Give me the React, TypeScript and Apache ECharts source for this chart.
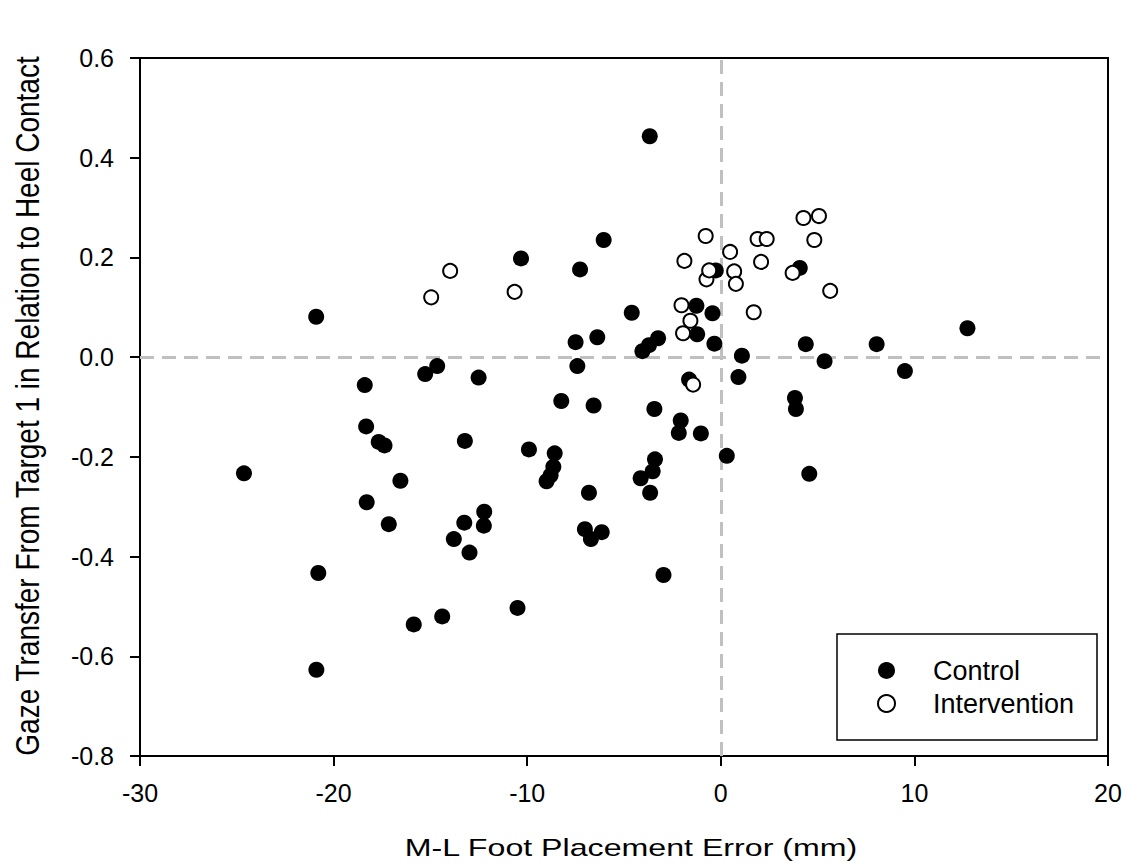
import React, { useEffect, useRef } from "react";
import * as echarts from "echarts";

const xTicks = [-30, -20, -10, 0, 10, 20];
const yTicks = [-0.8, -0.6, -0.4, -0.2, 0.0, 0.2, 0.4, 0.6];

const controlData: number[][] = [
  [-24.63, -0.233], [-20.9, 0.081], [-20.79, -0.433], [-20.89, -0.627],
  [-18.39, -0.056], [-18.32, -0.139], [-18.29, -0.291], [-17.67, -0.17],
  [-17.37, -0.177], [-17.15, -0.335], [-16.55, -0.248], [-15.86, -0.536],
  [-15.27, -0.034], [-14.65, -0.018], [-14.39, -0.52], [-13.79, -0.365],
  [-13.25, -0.332], [-13.22, -0.168], [-12.98, -0.392], [-12.51, -0.041],
  [-12.22, -0.31], [-12.24, -0.338], [-10.5, -0.503], [-10.32, 0.198],
  [-9.91, -0.185], [-9.0, -0.249], [-8.79, -0.237], [-8.65, -0.22],
  [-8.58, -0.193], [-8.24, -0.088], [-7.5, 0.03], [-7.41, -0.018],
  [-7.27, 0.176], [-7.02, -0.345], [-6.81, -0.272], [-6.71, -0.365],
  [-6.57, -0.097], [-6.38, 0.04], [-6.15, -0.351], [-6.05, 0.235],
  [-4.6, 0.089], [-4.14, -0.243], [-4.05, 0.012], [-3.71, 0.024],
  [-3.67, 0.443], [-3.65, -0.272], [-3.52, -0.229], [-3.43, -0.104],
  [-3.4, -0.205], [-3.24, 0.038], [-2.96, -0.437], [-2.17, -0.152],
  [-2.07, -0.127], [-1.64, -0.045], [-1.26, 0.103], [-1.22, 0.046],
  [-1.03, -0.153], [-0.43, 0.088], [-0.33, 0.027], [-0.26, 0.174],
  [0.31, -0.198], [0.91, -0.04], [1.09, 0.003], [3.83, -0.082],
  [3.88, -0.104], [4.08, 0.179], [4.39, 0.026], [4.57, -0.234],
  [5.36, -0.008], [8.05, 0.026], [9.51, -0.028], [12.74, 0.058],
];

const interventionData: number[][] = [
  [-14.96, 0.12], [-13.98, 0.173], [-10.65, 0.131], [-2.03, 0.104],
  [-1.95, 0.048], [-1.88, 0.193], [-1.57, 0.073], [-1.43, -0.055],
  [-0.78, 0.243], [-0.74, 0.156], [-0.6, 0.174], [0.48, 0.211],
  [0.69, 0.172], [0.78, 0.147], [1.7, 0.09], [1.9, 0.237],
  [2.08, 0.191], [2.37, 0.237], [3.71, 0.169], [4.27, 0.279],
  [4.83, 0.235], [5.07, 0.283], [5.65, 0.133],
];

const seriesNames = ["Control", "Intervention"];
const xTitle = "M-L Foot Placement Error (mm)";
const yTitle = "Gaze Transfer From Target 1 in Relation to Heel Contact";

const FONT = "'Liberation Sans', Arial, Helvetica, sans-serif";

export default function App() {
  const ref = useRef<HTMLDivElement>(null);
  useEffect(() => {
    if (!ref.current) return;
    const chart = echarts.init(ref.current, undefined, { renderer: "svg" });
    chart.setOption({
      animation: false,
      backgroundColor: "#fff",
      textStyle: { fontFamily: FONT, color: "#000" },
      grid: {
        left: 140,
        top: 58,
        right: 19,
        bottom: 112,
        show: true,
        borderColor: "#000",
        borderWidth: 2,
        backgroundColor: "transparent",
      },
      xAxis: {
        type: "value",
        min: xTicks[0],
        max: xTicks[xTicks.length - 1],
        interval: 10,
        axisLine: { show: true, onZero: false, lineStyle: { color: "#000", width: 2 } },
        axisTick: { show: true, inside: false, length: 10, lineStyle: { color: "#000", width: 2 } },
        axisLabel: { fontSize: 25, color: "#000", margin: 24, fontFamily: FONT },
        splitLine: { show: false },
      },
      yAxis: {
        type: "value",
        min: yTicks[0],
        max: yTicks[yTicks.length - 1],
        interval: 0.2,
        axisLine: { show: true, onZero: false, lineStyle: { color: "#000", width: 2 } },
        axisTick: { show: true, inside: false, length: 10, lineStyle: { color: "#000", width: 2 } },
        axisLabel: {
          fontSize: 25,
          color: "#000",
          margin: 26,
          fontFamily: FONT,
          formatter: (v: number) => v.toFixed(1),
        },
        splitLine: { show: false },
      },
      legend: {
        orient: "vertical",
        left: 872,
        top: 652,
        z: 10,
        itemWidth: 17,
        itemHeight: 17,
        itemGap: 6,
        icon: "circle",
        textStyle: {
          fontSize: 27,
          lineHeight: 27,
          color: "#000",
          fontFamily: FONT,
          padding: [0, 0, 0, 33],
        },
        data: [
          { name: seriesNames[0], itemStyle: { color: "#000", borderWidth: 0 } },
          { name: seriesNames[1], itemStyle: { color: "#fff", borderColor: "#000", borderWidth: 2 } },
        ],
      },
      graphic: [
        {
          type: "rect",
          shape: { x: 837, y: 634, width: 260, height: 106 },
          style: { fill: "#fff", stroke: "#000", lineWidth: 1.5 },
          z: 1,
          silent: true,
        },
        {
          type: "text",
          x: 631,
          y: 848,
          scaleX: 1.34,
          silent: true,
          style: {
            text: xTitle,
            fontSize: 24,
            fontFamily: FONT,
            fill: "#000",
            align: "center",
            verticalAlign: "middle",
          },
        },
        {
          type: "text",
          x: 28,
          y: 406,
          rotation: Math.PI / 2,
          scaleY: 1.2,
          silent: true,
          style: {
            text: yTitle,
            fontSize: 28,
            fontFamily: FONT,
            fill: "#000",
            align: "center",
            verticalAlign: "middle",
          },
        },
      ],
      series: [
        {
          type: "scatter",
          name: "refLines",
          data: [],
          z: 1,
          markLine: {
            silent: true,
            symbol: "none",
            label: { show: false },
            lineStyle: { color: "#c0c0c0", width: 3, type: [14, 8] },
            data: [{ xAxis: 0 }, { yAxis: 0 }],
          },
        },
        {
          type: "scatter",
          name: seriesNames[0],
          data: controlData,
          symbol: "circle",
          symbolSize: 16,
          z: 10,
          itemStyle: { color: "#000", opacity: 1 },
        },
        {
          type: "scatter",
          name: seriesNames[1],
          data: interventionData,
          symbol: "circle",
          symbolSize: 14,
          z: 11,
          itemStyle: { color: "#fff", borderColor: "#000", borderWidth: 2, opacity: 1 },
        },
      ],
    });
    return () => chart.dispose();
  }, []);
  return (
    <div
      ref={ref}
      style={{ position: "fixed", left: 0, top: 0, width: 1127, height: 868 }}
    />
  );
}
